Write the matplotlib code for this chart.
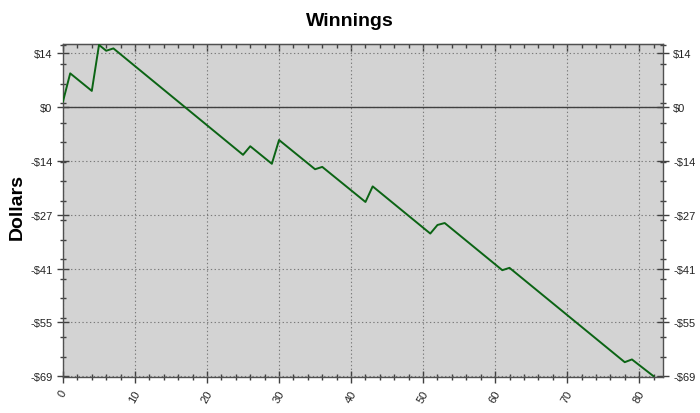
#!/usr/bin/env python3
"""Winnings line chart."""

import matplotlib
matplotlib.use("Agg")
import matplotlib.pyplot as plt
from matplotlib.ticker import FixedLocator

plt.rcParams["font.family"] = ["Liberation Sans", "DejaVu Sans"]

# vertices of the winnings line (game number, dollars)
GAME = [0, 1, 4, 5, 6, 7, 25, 26, 29, 30, 35, 36, 42, 43,
        51, 52, 53, 61, 62, 78, 79, 82]
DOLLARS = [1.5, 8.7, 4.2, 16.0, 14.5, 15.1, -12.2, -10.0, -14.5, -8.4,
           -15.9, -15.3, -24.3, -20.3, -32.4, -30.2, -29.7, -41.8, -41.2,
           -65.4, -64.7, -69.0]

Y_TICKS = [-69.0, -55.2, -41.4, -27.6, -13.8, 0.0, 13.8]
Y_LABELS = ["-$69", "-$55", "-$41", "-$27", "-$14", "$0", "$14"]
Y_MINOR = [-69 + 5 * k for k in range(18)]
X_TICKS = [0, 10, 20, 30, 40, 50, 60, 70, 80]
X_MINOR = list(range(0, 84, 2))

fig = plt.figure(figsize=(7.0, 4.14), dpi=100)
ax = fig.add_axes([0.09, 0.087, 0.857, 0.804])
ax.set_facecolor("#d3d3d3")

ax.plot(GAME, DOLLARS, color="#0b6414", linewidth=1.4, zorder=3)
ax.axhline(0, color="#404040", linewidth=1.0, zorder=2)

ax.set_xlim(0, 83.3)
ax.set_ylim(-69.2, 16.2)

ax.xaxis.set_major_locator(FixedLocator(X_TICKS))
ax.xaxis.set_minor_locator(FixedLocator(X_MINOR))
ax.yaxis.set_major_locator(FixedLocator(Y_TICKS))
ax.yaxis.set_minor_locator(FixedLocator(Y_MINOR))
ax.set_yticklabels(Y_LABELS)
ax.set_xticklabels([str(x) for x in X_TICKS], rotation=60, ha="center", va="top")

ax.grid(True, which="major", color="#7a7a7a", linestyle=(0, (1.2, 2.2)), linewidth=0.8)
ax.set_axisbelow(True)

ax.tick_params(which="both", direction="inout", right=True, top=False,
               labelright=True, colors="#404040", labelcolor="#222222",
               labelsize=8)
ax.tick_params(axis="y", which="major", length=9, width=1.0, pad=3)
ax.tick_params(axis="y", which="minor", length=4.5, width=1.0)
ax.tick_params(axis="x", which="major", length=8, width=1.0, pad=4)
ax.tick_params(axis="x", which="minor", length=4, width=1.0)

# top edge: inward ticks only
top = ax.secondary_xaxis("top")
top.xaxis.set_major_locator(FixedLocator(X_TICKS))
top.xaxis.set_minor_locator(FixedLocator(X_MINOR))
top.tick_params(which="both", direction="in", labeltop=False, colors="#404040")
top.tick_params(which="major", length=5, width=1.0)
top.tick_params(which="minor", length=3, width=1.0)
top.spines["top"].set_color("#505050")

for s in ax.spines.values():
    s.set_color("#505050")
    s.set_linewidth(1.0)

fig.text(0.5, 0.948, "Winnings", ha="center", va="center",
         fontsize=14, fontweight="bold")
fig.text(0.024, 0.5, "Dollars", ha="center", va="center", rotation=90,
         fontsize=14, fontweight="bold")

fig.savefig("out.png", dpi=100)
